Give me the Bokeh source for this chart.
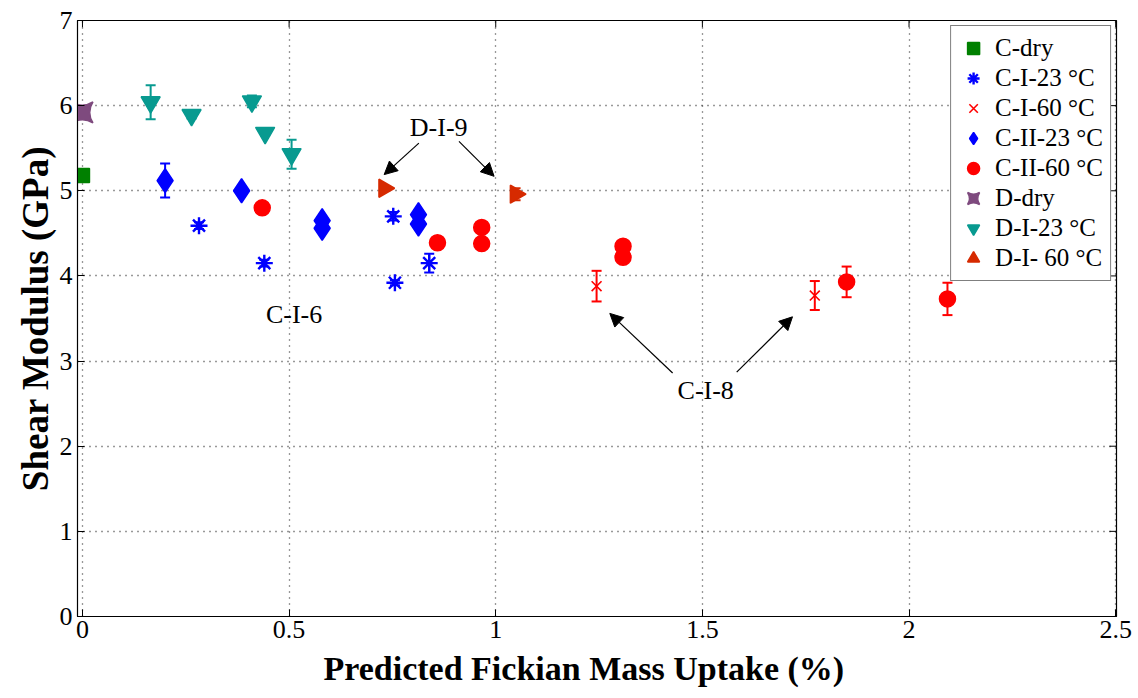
import math
from bokeh.plotting import figure
from bokeh.models import (Whisker, TeeHead, Arrow, NormalHead, ColumnDataSource,
                          Legend, LegendItem, FixedTicker, Label, Range1d, Title)
from bokeh.embed import file_html
from bokeh.resources import INLINE

# ---------------- data ----------------
c_dry_x = [0.0]
c_dry_y = [5.18]
c_dry_e = [0.03]

c_i23_x = [0.282, 0.44, 0.752, 0.756, 0.839]
c_i23_y = [4.59, 4.15, 4.70, 3.92, 4.15]
c_i23_e = [0.04, 0.04, 0.05, 0.03, 0.11]

c_i60_x = [1.244, 1.772]
c_i60_y = [3.88, 3.77]
c_i60_e = [0.18, 0.17]

c_ii23_x = [0.20, 0.385, 0.58, 0.58, 0.813, 0.813]
c_ii23_y = [5.12, 5.00, 4.65, 4.56, 4.72, 4.61]
c_ii23_e = [0.20, 0.03, 0.03, 0.03, 0.03, 0.03]

c_ii60_x = [0.435, 0.859, 0.966, 0.966, 1.308, 1.308, 1.849, 2.093]
c_ii60_y = [4.80, 4.39, 4.57, 4.38, 4.35, 4.22, 3.93, 3.73]
c_ii60_e = [0.02, 0.02, 0.02, 0.02, 0.03, 0.03, 0.18, 0.19]

d_dry_x = [0.0]
d_dry_y = [5.92]
d_dry_e = [0.05]

d_i23_x = [0.165, 0.264, 0.41, 0.442, 0.506]
d_i23_y = [6.04, 5.89, 6.05, 5.68, 5.43]
d_i23_e = [0.20, 0.04, 0.07, 0.03, 0.17]

d_i60_x = [0.73, 1.048]
d_i60_y = [5.03, 4.96]
d_i60_e = [0.02, 0.07]

x_ticks = [0, 0.5, 1, 1.5, 2, 2.5]
x_tick_labels = ["0", "0.5", "1", "1.5", "2", "2.5"]
y_ticks = [0, 1, 2, 3, 4, 5, 6, 7]

FONT = "Liberation Serif"
X0, X1, Y0, Y1 = -0.012, 2.502, 0, 7

p = figure(width=1138, height=698, output_backend="svg", toolbar_location=None,
           x_range=Range1d(X0, X1), y_range=Range1d(Y0, Y1),
           min_border_left=77, min_border_right=22, min_border_top=20,
           min_border_bottom=82)
p.background_fill_color = "white"
p.border_fill_color = "white"
p.outline_line_color = "black"
p.outline_line_width = 1.2

for ax in (p.xaxis, p.yaxis):
    ax.major_label_text_font = FONT
    ax.major_label_text_font_size = "26px"
    ax.major_label_text_color = "black"
    ax.major_tick_in = 7
    ax.major_tick_out = 0
    ax.minor_tick_line_color = None
    ax.axis_line_color = "black"
    ax.major_tick_line_color = "black"

p.xaxis.ticker = FixedTicker(ticks=x_ticks)
p.xaxis.major_label_overrides = {t: l for t, l in zip(x_ticks, x_tick_labels)}
p.yaxis.ticker = FixedTicker(ticks=y_ticks)
p.xaxis.major_label_standoff = 4
p.yaxis.major_label_standoff = 5

# axis titles (as titles so they can be offset along the axis)
p.add_layout(Title(text="Predicted Fickian Mass Uptake (%)", text_font=FONT,
                   text_font_style="bold", text_font_size="34px", text_color="black",
                   align="left", offset=246, standoff=14), "below")
p.add_layout(Title(text="Shear Modulus (GPa)", text_font=FONT,
                   text_font_style="bold", text_font_size="37px", text_color="black",
                   align="center", standoff=2), "left")

# mirrored inward ticks on top and right edges
p.segment(x0=x_ticks, x1=x_ticks, y0=[Y1] * len(x_ticks), y1=[Y1 - 0.08] * len(x_ticks),
          line_color="black", line_width=1)
p.segment(x0=[X1] * len(y_ticks), x1=[X1 - 0.017] * len(y_ticks), y0=y_ticks, y1=y_ticks,
          line_color="black", line_width=1)

for g in (p.xgrid, p.ygrid):
    g.grid_line_color = "#333333"
    g.grid_line_dash = "1 5"
    g.grid_line_width = 1.3

items = []

def series(xs, ys, es, marker, color, size, label, angle=0.0, line_w=1.5, fill=True):
    src = ColumnDataSource(dict(x=xs, y=ys, lo=[y - e for y, e in zip(ys, es)],
                                hi=[y + e for y, e in zip(ys, es)]))
    w = Whisker(source=src, base="x", lower="lo", upper="hi",
                line_color=color, line_width=2,
                lower_head=TeeHead(size=10, line_color=color, line_width=2),
                upper_head=TeeHead(size=10, line_color=color, line_width=2))
    p.add_layout(w)
    r = p.scatter("x", "y", source=src, marker=marker, size=size, angle=angle,
                  fill_color=color if fill else None, line_color=color,
                  line_width=line_w)
    items.append(LegendItem(label=label, renderers=[r]))
    return r

series(c_dry_x, c_dry_y, c_dry_e, "square", "#008000", 14, "C-dry")
series(c_i23_x, c_i23_y, c_i23_e, "asterisk", "#0000FF", 17, "C-I-23 \u00b0C", line_w=2.4)
series(c_i60_x, c_i60_y, c_i60_e, "x", "#FF0000", 14, "C-I-60 \u00b0C", line_w=1.6, fill=False)
series(c_ii23_x, c_ii23_y, c_ii23_e, "diamond", "#0000FF", 24, "C-II-23 \u00b0C")
series(c_ii60_x, c_ii60_y, c_ii60_e, "circle", "#FF0000", 16, "C-II-60 \u00b0C")
series(d_dry_x, d_dry_y, d_dry_e, "square_pin", "#7E4A7E", 21, "D-dry")
series(d_i23_x, d_i23_y, d_i23_e, "inverted_triangle", "#089A90", 19, "D-I-23 \u00b0C")
series(d_i60_x, d_i60_y, d_i60_e, "triangle", "#D62A00", 18, "D-I- 60 \u00b0C",
       angle=-math.pi / 2)

legend = Legend(items=items, location="top_right")
legend.label_text_font = FONT
legend.label_text_font_size = "25px"
legend.label_text_color = "black"
legend.label_text_line_height = 1.0
legend.border_line_color = "black"
legend.border_line_width = 1.5
legend.background_fill_alpha = 1.0
legend.margin = 5
legend.padding = 7
legend.spacing = 0
legend.label_height = 30
legend.glyph_height = 30
legend.glyph_width = 30
legend.label_standoff = 7
p.add_layout(legend)

# annotations
ann_font = dict(text_font=FONT, text_font_size="26px", text_color="black",
                text_align="center", text_baseline="middle")
p.add_layout(Label(x=0.862, y=5.74, text="D-I-9", **ann_font))
p.add_layout(Label(x=0.512, y=3.55, text="C-I-6", **ann_font))
p.add_layout(Label(x=1.508, y=2.66, text="C-I-8", **ann_font))

def arrow(x0, y0, x1, y1):
    p.add_layout(Arrow(end=NormalHead(size=13, fill_color="black", line_color="black"),
                       x_start=x0, y_start=y0, x_end=x1, y_end=y1,
                       line_color="black", line_width=1.2))

arrow(0.814, 5.56, 0.73, 5.19)
arrow(0.911, 5.58, 0.996, 5.17)
arrow(1.428, 2.86, 1.276, 3.56)
arrow(1.583, 2.87, 1.718, 3.52)

open("out.html", "w").write(file_html(p, INLINE))
